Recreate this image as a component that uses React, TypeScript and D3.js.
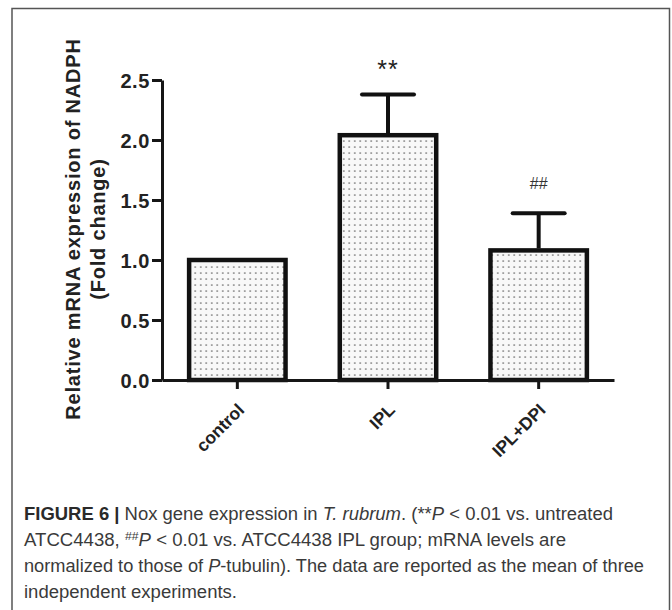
import React, { useEffect, useRef } from 'react';
import * as d3 from 'd3';

// values
const groups = ['control', 'IPL', 'IPL+DPI'];
const means = [1.0, 2.04, 1.08];
const errors = [0, 0.34, 0.31];
const marks = ['', '**', '##'];
const yTicks = [0, 0.5, 1.0, 1.5, 2.0, 2.5];

const App = () => {
    const yAxisRef = useRef<SVGGElement>(null);
    const xAxisRef = useRef<SVGGElement>(null);

    const width = 672;
    const height = 610;

    const plot = { left: 162, right: 614, top: 80, bottom: 380 };

    const xScale = d3.scaleBand()
        .domain(groups)
        .range([plot.left, plot.right])
        .paddingInner(0.36)
        .paddingOuter(0.18);

    const yScale = d3.scaleLinear()
        .domain([0, 2.5])
        .range([plot.bottom, plot.top]);

    useEffect(() => {
        const yAxis = d3.axisLeft(yScale)
            .tickValues(yTicks)
            .tickFormat(d3.format('.1f'))
            .tickSize(10)
            .tickSizeOuter(0)
            .tickPadding(2);

        const gY = d3.select(yAxisRef.current);
        gY.selectAll('*').remove();
        gY.call(yAxis as any);
        gY.select('.domain').attr('stroke', '#161616').attr('stroke-width', 3);
        gY.selectAll('.tick line').attr('stroke', '#161616').attr('stroke-width', 3);
        gY.selectAll('.tick text')
            .attr('fill', '#222')
            .attr('dy', '0.36em')
            .style('font-family', '"Liberation Sans", Arial, sans-serif')
            .style('font-weight', 'bold')
            .style('font-size', '20px')
            .style('letter-spacing', '0.6px');

        const xAxis = d3.axisBottom(xScale)
            .tickSize(9)
            .tickSizeOuter(0);

        const gX = d3.select(xAxisRef.current);
        gX.selectAll('*').remove();
        gX.call(xAxis as any);
        gX.select('.domain').attr('stroke', '#161616').attr('stroke-width', 3);
        gX.selectAll('.tick line').attr('stroke', '#161616').attr('stroke-width', 3);
        gX.selectAll('.tick text')
            .attr('fill', '#222')
            .attr('x', 0)
            .attr('y', 0)
            .attr('dy', 0)
            .attr('transform', 'translate(8, 31) rotate(-45)')
            .attr('text-anchor', 'end')
            .style('font-family', '"Liberation Sans", Arial, sans-serif')
            .style('font-weight', 'bold')
            .style('font-size', '17.5px');
    }, []);

    const font = '"Liberation Sans", Arial, sans-serif';
    const bw = xScale.bandwidth();

    return (
        <svg width={width} height={height}
            style={{ position: 'absolute', left: 0, top: 0, background: '#fff' }}>
            <defs>
                <pattern id="dots" patternUnits="userSpaceOnUse" width={5.5} height={6}>
                    <rect width={5.5} height={6} fill="#f8f8f8" />
                    <circle cx={2.75} cy={3} r={0.85} fill="#666" />
                </pattern>
            </defs>

            {/* figure frame, open at the bottom */}
            <path d={`M12,${height} V8.5 H669.5 V${height}`} fill="none" stroke="#555" strokeWidth={1.5} />

            {/* bars */}
            {groups.map((g, i) => (
                <rect key={g}
                    x={xScale(g)!}
                    y={yScale(means[i])}
                    width={bw}
                    height={yScale(0) - yScale(means[i])}
                    fill="url(#dots)"
                    stroke="#111"
                    strokeWidth={4.5} />
            ))}

            {/* error bars */}
            {groups.map((g, i) => {
                if (!errors[i]) return null;
                const cx = xScale(g)! + bw / 2;
                const yTop = yScale(means[i] + errors[i]);
                return (
                    <g key={g} stroke="#111" strokeWidth={4}>
                        <line x1={cx} x2={cx} y1={yScale(means[i]) - 2} y2={yTop} />
                        <line x1={cx - 26} x2={cx + 26} y1={yTop} y2={yTop} strokeLinecap="round" />
                    </g>
                );
            })}

            {/* significance marks */}
            {groups.map((g, i) => {
                if (!marks[i]) return null;
                const cx = xScale(g)! + bw / 2;
                const yTop = yScale(means[i] + errors[i]);
                return marks[i] === '**' ? (
                    <text key={g} x={cx} y={yTop - 16} textAnchor="middle" fill="#222"
                        style={{ fontFamily: font, fontSize: 25, letterSpacing: 1 }}>**</text>
                ) : (
                    <text key={g} x={cx} y={yTop - 24} textAnchor="middle" fill="#333"
                        style={{ fontFamily: font, fontSize: 16 }}>##</text>
                );
            })}

            <g ref={xAxisRef} transform={`translate(0, ${plot.bottom})`} />
            <g ref={yAxisRef} transform={`translate(${plot.left}, 0)`} />

            {/* y axis title */}
            <g transform="translate(0, 229) rotate(-90)"
                style={{ fontFamily: font, fontWeight: 'bold', fontSize: 20, letterSpacing: 0.8 }}
                fill="#222" textAnchor="middle">
                <text x={0} y={80}>Relative mRNA expression of NADPH</text>
                <text x={0} y={105}>(Fold change)</text>
            </g>

            {/* caption */}
            <g style={{ fontFamily: font, fontSize: 17.5 }} fill="#3a3a3a">
                <text x={24} y={520} textLength={589} lengthAdjust="spacingAndGlyphs">
                    <tspan fontWeight="bold" fill="#2a2a2a">FIGURE 6 |</tspan>
                    <tspan> Nox gene expression in </tspan>
                    <tspan fontStyle="italic">T. rubrum</tspan>
                    <tspan>. (**</tspan>
                    <tspan fontStyle="italic">P</tspan>
                    <tspan> &lt; 0.01 vs. untreated</tspan>
                </text>
                <text x={24} y={546} textLength={542} lengthAdjust="spacingAndGlyphs">
                    <tspan>ATCC4438, </tspan>
                    <tspan fontSize={11.5} dy={-6}>##</tspan>
                    <tspan fontStyle="italic" dy={6}>P</tspan>
                    <tspan> &lt; 0.01 vs. ATCC4438 IPL group; mRNA levels are</tspan>
                </text>
                <text x={24} y={572} textLength={620} lengthAdjust="spacingAndGlyphs">
                    <tspan>normalized to those of </tspan>
                    <tspan fontStyle="italic">P</tspan>
                    <tspan>-tubulin). The data are reported as the mean of three</tspan>
                </text>
                <text x={24} y={598} textLength={213} lengthAdjust="spacingAndGlyphs">
                    independent experiments.
                </text>
            </g>
        </svg>
    );
};

export default App;
